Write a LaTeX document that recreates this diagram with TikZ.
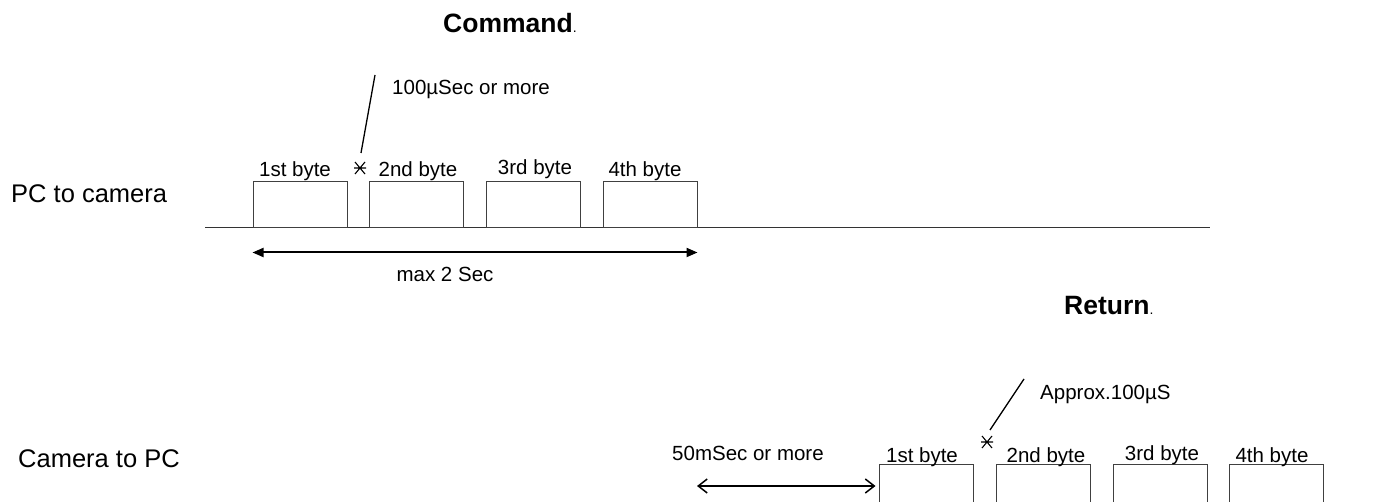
\documentclass[tikz,border=0pt]{standalone}
\usepackage{fontspec}
\setmainfont{Liberation Sans}
\usetikzlibrary{arrows.meta}

\tikzset{
  bytebox/.style={draw=black!75, line width=1pt, minimum width=94, minimum height=46, inner sep=0pt},
  bytelabel/.style={anchor=base, inner sep=0pt, font=\fontsize{20.5}{24}\selectfont},
  smalltext/.style={anchor=base west, inner sep=0pt, font=\fontsize{20.5}{24}\selectfont},
  sidetext/.style={anchor=base west, inner sep=0pt, font=\fontsize{25.5}{30}\selectfont},
  titletext/.style={anchor=base west, inner sep=0pt, font=\fontsize{26.5}{30}\selectfont\bfseries},
  leader/.style={line width=1.3pt},
  gapmark/.style={line width=1.1pt},
}

\begin{document}
\begin{tikzpicture}[x=1pt,y=1pt,yscale=-1,xscale=1]
        \useasboundingbox (0,0) rectangle (1375,502);
        \clip (0,0) rectangle (1375,502);

        % Text Node
        \node [titletext] (cmdtitle) at (443,33) {Command{\mdseries\fontsize{14}{14}\selectfont .}};
        % Text Node
        \node [sidetext] (pccam) at (11,203) {PC to camera};

        %Straight Lines [PC to camera]
        \coordinate (lineL) at (205,228);
        \coordinate (lineR) at (1210,228);
        \draw [line width=1pt, draw=black!80] (lineL) -- (lineR);

        % Byte boxes [PC to camera]
        \node [bytebox] (cb1) at (300,205) {};
        \node [bytebox] (cb2) at (416,205) {};
        \node [bytebox] (cb3) at (533.5,205) {};
        \node [bytebox] (cb4) at (650,205) {};
        % Text Node
        \node [bytelabel] (cl1) at (295,177) {1st byte};
        \node [bytelabel] (cl2) at (418,177) {2nd byte};
        \node [bytelabel] (cl3) at (535,175) {3rd byte};
        \node [bytelabel] (cl4) at (645,177) {4th byte};

        % gap marker and leader
        \coordinate (cmark) at (360,168);
        \coordinate (cldr) at (375,75);
        \draw [gapmark] (cmark) +(-5,-6) -- +(5,6) +(-5,6) -- +(5,-6) +(-6,0) -- +(6,0);
        \draw [leader] (cldr) -- ([shift={(1,-15)}]cmark);
        % Text Node
        \node [smalltext] (cgap) at (392,95) {100µSec or more};

        %Straight Lines [max 2 Sec]
        \draw [line width=2pt, {Triangle[length=11pt,width=9pt]}-{Triangle[length=11pt,width=9pt]}]
              ([yshift=24pt]cb1.south west) -- ([yshift=24pt]cb4.south east);
        % Text Node
        \node [bytelabel] (cmax) at (445,282) {max 2 Sec};

        % Text Node
        \node [titletext] (rettitle) at (1064,315) {Return{\mdseries\fontsize{14}{14}\selectfont .}};
        % Text Node
        \node [sidetext] (campc) at (18,467) {Camera to PC};

        % Byte boxes [Camera to PC]
        \node [bytebox] (rb1) at (926,487) {};
        \node [bytebox] (rb2) at (1043.5,487) {};
        \node [bytebox] (rb3) at (1160,487) {};
        \node [bytebox] (rb4) at (1276.5,487) {};
        % Text Node
        \node [bytelabel] (rl1) at (922,462) {1st byte};
        \node [bytelabel] (rl2) at (1046,462) {2nd byte};
        \node [bytelabel] (rl3) at (1162,460) {3rd byte};
        \node [bytelabel] (rl4) at (1272,462) {4th byte};

        % gap marker and leader
        \coordinate (rmark) at (987,442);
        \coordinate (rldr) at (1024,379);
        \draw [gapmark] (rmark) +(-5,-6) -- +(5,6) +(-5,6) -- +(5,-6) +(-6,0) -- +(6,0);
        \draw [leader] (rldr) -- ([shift={(3,-12)}]rmark);
        % Text Node
        \node [smalltext] (rgap) at (1040,399) {Approx.100µS};

        %Straight Lines [50mSec or more]
        \coordinate (waitL) at (697,486);
        \draw [line width=1.5pt, {Straight Barb[length=9pt,width=14pt]}-{Straight Barb[length=9pt,width=14pt]}]
              (waitL) -- ([xshift=-3pt]rb1.west |- waitL);
        % Text Node
        \node [smalltext] (rwait) at (672,460) {50mSec or more};
\end{tikzpicture}
\end{document}
